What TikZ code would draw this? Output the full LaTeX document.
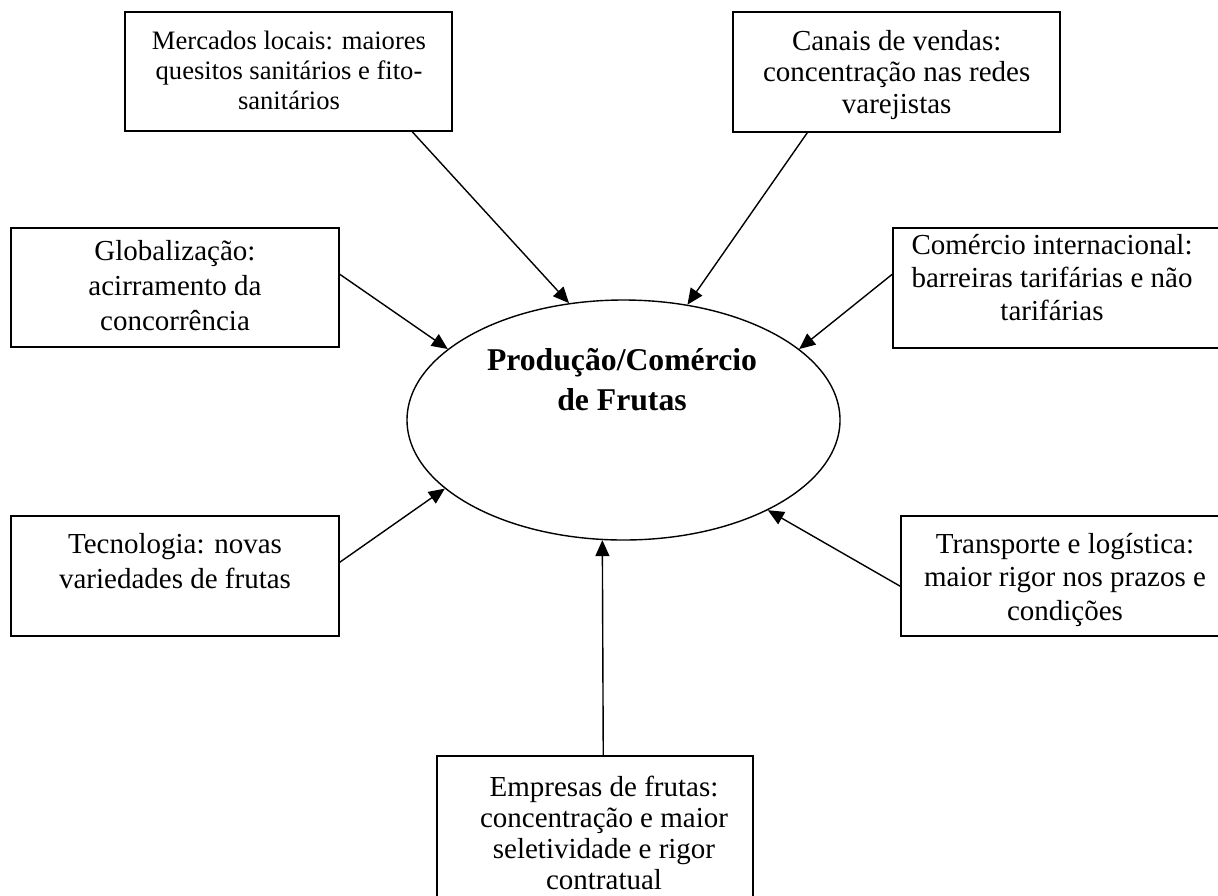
\documentclass[tikz,border=0pt]{standalone}
\usepackage{fontspec}
\setmainfont{Liberation Serif}
\usetikzlibrary{arrows.meta,shapes.geometric,calc}
\begin{document}
\begin{tikzpicture}[x=0.5pt,y=-0.5pt,
  box/.style={draw,line width=0.75pt,inner sep=0pt,minimum width=164pt,minimum height=60pt},
  txt/.style={inner sep=0pt,align=center,anchor=base,font=\fontsize{14.5pt}{16.7pt}\selectfont},
  arr/.style={line width=0.7pt,-{Triangle[length=8pt,width=7pt]}}]
\useasboundingbox (0,0) rectangle (1218,895);
\clip (0,0) rectangle (1218,895);
% boxes
\node[box,minimum width=163.5pt,minimum height=59.5pt] (mercados) at (288.5,71.5) {};
\node[box,minimum width=163.5pt,minimum height=60pt] (canais) at (896.5,72) {};
\node[box,minimum width=164pt,minimum height=59.5pt] (glob) at (175,287.5) {};
\node[box,minimum width=164pt,minimum height=60pt] (comercio) at (1057,288) {};
\node[box,minimum width=164pt,minimum height=60pt] (tecno) at (175,576) {};
\node[box,minimum width=164pt,minimum height=60pt] (transp) at (1065,576) {};
\node[box,minimum width=158pt,minimum height=77pt] (empresas) at (595,833) {};
% ellipse
\node[ellipse,draw,line width=0.7pt,inner sep=0pt,minimum width=216.5pt,minimum height=120pt] (prod) at (623.5,420) {};
% texts (anchor=base is the baseline of the last line)
\node[txt,font=\fontsize{13.3pt}{15pt}\selectfont] (tmercados) at (289,109.3) {Mercados locais: maiores\\quesitos sanitários e fito-\\sanitários};
\node[txt,font=\fontsize{14.5pt}{15.75pt}\selectfont] (tcanais) at (896.7,113) {Canais de vendas:\\concentração nas redes\\varejistas};
\node[txt,font=\fontsize{14.5pt}{17.5pt}\selectfont] (tglob) at (175,330) {Globalização:\\acirramento da\\concorrência};
\node[txt,font=\fontsize{14.5pt}{16.5pt}\selectfont] (tcomercio) at (1052,320) {Comércio internacional:\\barreiras tarifárias e não\\tarifárias};
\node[txt,font=\fontsize{14.5pt}{17.5pt}\selectfont] (ttecno) at (175,588.3) {Tecnologia: novas\\variedades de frutas};
\node[txt,font=\fontsize{14.5pt}{16.7pt}\selectfont] (ttransp) at (1065,620) {Transporte e logística:\\maior rigor nos prazos e\\condições};
\node[txt,font=\fontsize{14.5pt}{15.5pt}\selectfont] (tempresas) at (604,889) {Empresas de frutas:\\concentração e maior\\seletividade e rigor\\contratual};
\node[txt,font=\fontsize{15.85pt}{19.7pt}\selectfont\bfseries] (tprod) at (622,410) {Produção/Comércio\\de Frutas};
% arrows
\draw[arr] ($(mercados.south west)+(288,0)$) -- (prod.115.2);
\draw[arr] ($(canais.south west)+(75,0)$) -- (prod.61.8);
\draw[arr] ($(glob.north east)+(0,47)$) -- (prod.158.8);
\draw[arr] ($(comercio.north west)+(0,47)$) -- (prod.22.2);
\draw[arr] ($(tecno.north east)+(0,47)$) -- (prod.201.9);
\draw[arr] ($(transp.north west)+(0,71)$) -- (prod.328.5);
\draw[arr] ($(empresas.north west)+(167,0)$) -- (prod.260.8);
\end{tikzpicture}
\end{document}
